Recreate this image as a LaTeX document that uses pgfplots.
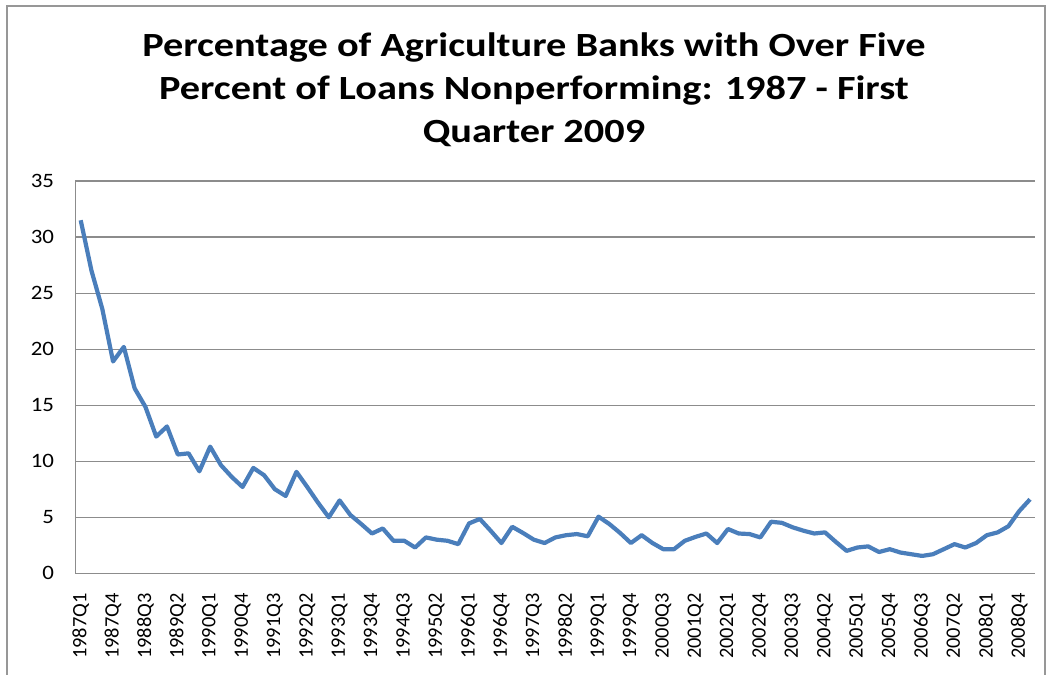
\documentclass[border=0pt]{standalone}
\usepackage{pgfplots}
\pgfplotsset{compat=1.18}
\usepackage{fontspec}
\setmainfont{Carlito}
\definecolor{lineblue}{HTML}{4A7EBB}
\definecolor{gridgray}{HTML}{8C8C8C}
\begin{document}
\begin{tikzpicture}[x=1bp,y=1bp]
\useasboundingbox (0,0) rectangle (1047,675);
\draw[color=gridgray!90, line width=2bp] (7,-2) -- (7,669) -- (1045,669) -- (1045,-2);
\node[align=center, xscale=1.19, font=\fontsize{34}{43}\selectfont\bfseries] at (534,585)
 {Percentage of Agriculture Banks with Over Five\\Percent of Loans Nonperforming: 1987 - First\\Quarter 2009};
\begin{axis}[
  at={(75.3bp,101.7bp)}, anchor=south west,
  scale only axis, width=960.1bp, height=392.3bp,
  xmin=-0.5, xmax=88.5, ymin=0, ymax=35,
  ytick={0,5,...,35},
  xtick={0,3,...,87},
  xticklabels={1987Q1,1987Q4,1988Q3,1989Q2,1990Q1,1990Q4,1991Q3,1992Q2,1993Q1,1993Q4,1994Q3,1995Q2,1996Q1,1996Q4,1997Q3,1998Q2,1999Q1,1999Q4,2000Q3,2001Q2,2002Q1,2002Q4,2003Q3,2004Q2,2005Q1,2005Q4,2006Q3,2007Q2,2008Q1,2008Q4},
  major tick length=0pt,
  axis x line*=bottom, axis y line*=left,
  axis line style={gridgray, line width=1.3bp, -},
  ymajorgrids, grid style={gridgray, line width=1.1bp},
  tick label style={font=\fontsize{20.5}{24}\selectfont},
  /pgf/number format/assume math mode=true,
  xticklabel style={rotate=90, anchor=east, inner sep=0pt},
  xticklabel shift=20bp,
  yticklabel style={anchor=east, inner sep=0pt, xscale=1.12},
  yticklabel shift=21bp,
  clip=false,
]
\addplot[lineblue, line width=4.2bp, line join=round] coordinates {
(0,31.5)(1,27.0)(2,23.6)(3,18.9)(4,20.2)(5,16.5)(6,14.85)(7,12.2)(8,13.1)(9,10.6)
(10,10.7)(11,9.1)(12,11.3)(13,9.65)(14,8.6)(15,7.7)(16,9.4)(17,8.75)(18,7.5)(19,6.9)
(20,9.05)(21,7.7)(22,6.3)(23,5.0)(24,6.5)(25,5.2)(26,4.4)(27,3.55)(28,4.0)(29,2.9)
(30,2.9)(31,2.3)(32,3.2)(33,3.0)(34,2.9)(35,2.6)(36,4.45)(37,4.85)(38,3.8)(39,2.7)
(40,4.15)(41,3.6)(42,3.0)(43,2.7)(44,3.2)(45,3.4)(46,3.5)(47,3.3)(48,5.05)(49,4.4)
(50,3.6)(51,2.7)(52,3.4)(53,2.7)(54,2.15)(55,2.15)(56,2.9)(57,3.25)(58,3.55)(59,2.7)
(60,3.95)(61,3.55)(62,3.5)(63,3.2)(64,4.6)(65,4.5)(66,4.1)(67,3.8)(68,3.55)(69,3.65)
(70,2.8)(71,2.0)(72,2.3)(73,2.4)(74,1.9)(75,2.15)(76,1.85)(77,1.7)(78,1.55)(79,1.7)
(80,2.15)(81,2.6)(82,2.3)(83,2.7)(84,3.4)(85,3.65)(86,4.2)(87,5.55)(88,6.6)
};
\end{axis}
\end{tikzpicture}
\end{document}
